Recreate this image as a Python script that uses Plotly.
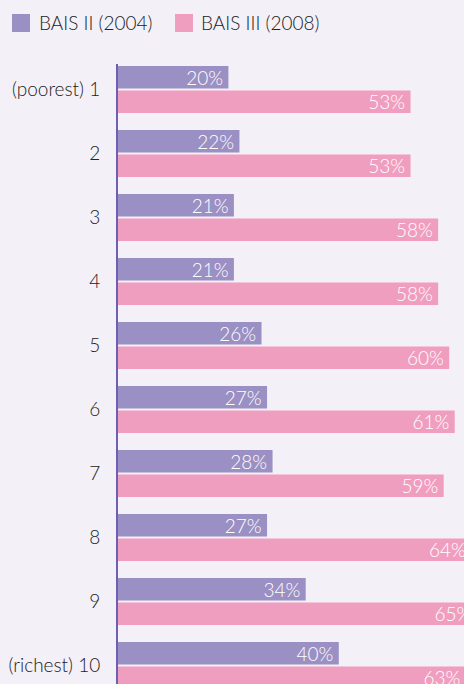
import plotly.graph_objects as go

categories = ["(poorest) 1", "2", "3", "4", "5", "6", "7", "8", "9", "(richest) 10"]
bais2_2004 = [20, 22, 21, 21, 26, 27, 28, 27, 34, 40]
bais3_2008 = [53, 53, 58, 58, 60, 61, 59, 64, 65, 63]
series_names = ["BAIS II (2004)", "BAIS III (2008)"]

BG = "#F3F0F7"
PURPLE = "#9B90C3"
PINK = "#F09EBF"
AXIS = "#6E5FB0"
FONT = "Lato"

W, H = 464, 684
L, T = 118, 64

fig = go.Figure()
for name, vals, col in [(series_names[0], bais2_2004, PURPLE), (series_names[1], bais3_2008, PINK)]:
    fig.add_trace(go.Bar(
        y=categories, x=vals, name=name, orientation="h",
        marker=dict(color=col, line=dict(width=0)),
        text=[f"{v}%\u2009" for v in vals],
        textposition="inside", insidetextanchor="end",
        insidetextfont=dict(color="white", size=19, family=FONT, weight=300),
        constraintext="none", cliponaxis=True,
        showlegend=False,
    ))

# manual legend
leg = [(12, 37, series_names[0], PURPLE), (175, 199, series_names[1], PINK)]
shapes = []
annotations = []
for sx, tx, name, col in leg:
    shapes.append(dict(type="rect", xref="paper", yref="paper",
                       x0=(sx - L) / (W - L), x1=(sx + 18 - L) / (W - L),
                       y0=1 + (T - 14) / (H - T), y1=1 + (T - 32) / (H - T),
                       fillcolor=col, line=dict(width=0)))
    annotations.append(dict(xref="paper", yref="paper", x=(tx - L) / (W - L),
                            y=1 + (T - 23) / (H - T), xanchor="left", yanchor="middle",
                            text=name, showarrow=False,
                            font=dict(size=19, color="#222222", family=FONT, weight=300)))

px_per_unit = 5.52
group = 64.0
c0 = 89.5
fig.update_layout(
    width=W, height=H,
    margin=dict(l=L, r=0, t=T, b=0),
    paper_bgcolor=BG, plot_bgcolor=BG,
    barmode="group", bargap=0.234, bargroupgap=0.08,
    shapes=shapes, annotations=annotations,
    xaxis=dict(range=[0, (W - L) / px_per_unit], showgrid=False, zeroline=False,
               showticklabels=False, showline=False, fixedrange=True),
    yaxis=dict(type="category", categoryorder="array", categoryarray=categories,
               range=[(H - c0) / group, (T - c0) / group],
               showgrid=False, zeroline=False, showline=True, linecolor=AXIS, linewidth=2,
               ticks="", ticklabelstandoff=12,
               tickfont=dict(size=19, color="#222222", family=FONT, weight=300)),
)

fig.write_html(
    "out.html",
    config={"displayModeBar": False},
    post_script="document.body.style.margin='0';document.body.style.overflow='hidden';"
                "document.documentElement.style.background='" + BG + "';",
)
